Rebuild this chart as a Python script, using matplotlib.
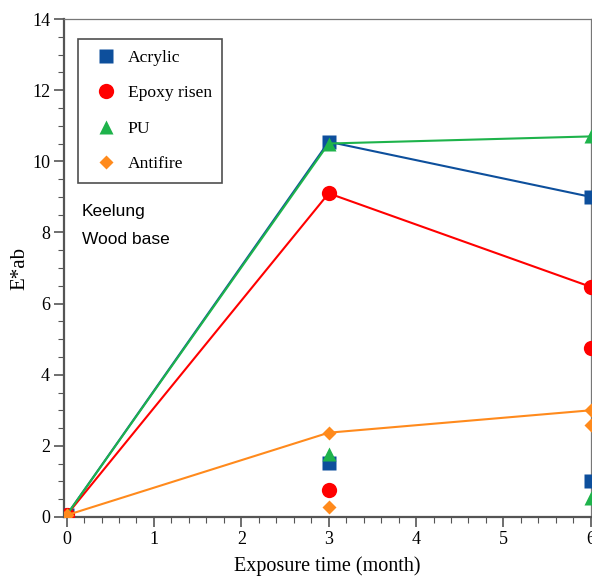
import numpy as np
import matplotlib
matplotlib.use('Agg')
import matplotlib.pyplot as plt
from matplotlib.ticker import MultipleLocator
from matplotlib.lines import Line2D

# exposure times (months)
months = [0, 3, 6]
months_extra = [3, 6]

# connected series
acrylic = [0.05, 10.55, 9.0]
epoxy = [0.05, 9.1, 6.47]
pu = [0.05, 10.5, 10.7]
antifire = [0.05, 2.37, 3.0]

# unconnected points
acrylic_pts = [1.52, 1.01]
epoxy_pts = [0.76, 4.75]
pu_pts = [1.78, 0.52]
antifire_pts = [0.28, 2.6]

names = ['Acrylic', 'Epoxy risen', 'PU', 'Antifire']
colors = ['#0d4f9c', '#ff0000', '#1eb34b', '#ff8a1c']
markers = ['s', 'o', '^', 'D']
msizes = [10, 11, 10, 7.5]

serif = 'Liberation Serif'
sans = 'Liberation Sans'

fig = plt.figure(figsize=(5.92, 5.77), dpi=100)
ax = fig.add_axes([0.108, 0.104, 0.890, 0.863])

lines = [acrylic, epoxy, pu, antifire]
pts = [acrylic_pts, epoxy_pts, pu_pts, antifire_pts]
order = [0, 1, 2, 3]
for i in order:
    ax.plot(months, lines[i], color=colors[i], lw=1.5, marker=markers[i],
            ms=msizes[i], mec='none', zorder=3)
    ax.plot(months_extra, pts[i], ls='none', color=colors[i], marker=markers[i],
            ms=msizes[i], mec='none', zorder=3)

ax.set_xlim(-0.03, 6)
ax.set_ylim(0, 14)
ax.xaxis.set_major_locator(MultipleLocator(1))
ax.xaxis.set_minor_locator(MultipleLocator(0.2))
ax.yaxis.set_major_locator(MultipleLocator(2))
ax.yaxis.set_minor_locator(MultipleLocator(0.5))
ax.tick_params(which='both', direction='out', color='#555555')
ax.tick_params(which='major', length=7, width=1.2, labelsize=13, pad=3)
ax.tick_params(which='minor', length=4, width=0.8)
for lab in ax.get_xticklabels() + ax.get_yticklabels():
    lab.set_fontfamily(serif)

for s in ['left', 'bottom']:
    ax.spines[s].set_linewidth(1.6)
    ax.spines[s].set_color('#555555')
for s in ['top', 'right']:
    ax.spines[s].set_linewidth(0.9)
    ax.spines[s].set_color('#777777')

ax.set_xlabel('Exposure time (month)', family=serif, fontsize=14.5, labelpad=6)
ax.set_ylabel('E*ab', family=serif, fontsize=15, labelpad=2)

handles = [Line2D([], [], ls='none', marker=markers[i], color=colors[i],
                  ms=msizes[i], mec='none') for i in order]
leg = ax.legend(handles, names, loc='upper left', bbox_to_anchor=(0.026, 0.96),
                prop={'family': serif, 'size': 12.6}, frameon=True, fancybox=False,
                edgecolor='#222222', labelspacing=1.1, handletextpad=0.27,
                borderpad=0.6, handlelength=2.0, borderaxespad=0)
leg.get_frame().set_linewidth(1.2)

ax.text(0.034, 0.614, 'Keelung', transform=ax.transAxes, family=sans,
        fontsize=12.5, va='center')
ax.text(0.034, 0.558, 'Wood base', transform=ax.transAxes, family=sans,
        fontsize=12.5, va='center')

fig.savefig('out.png', dpi=100)
